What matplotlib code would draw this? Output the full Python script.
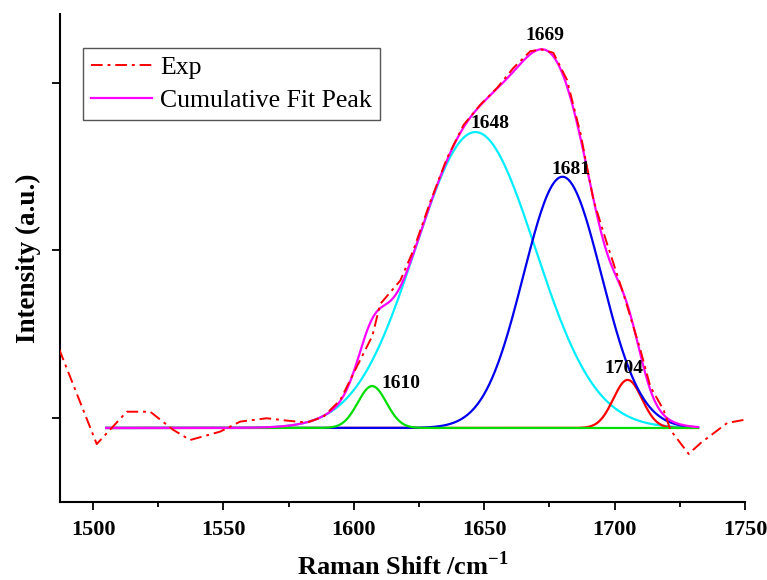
import numpy as np
import matplotlib.pyplot as plt
from matplotlib.ticker import MultipleLocator

plt.rcParams['font.family'] = ['Liberation Serif', 'DejaVu Serif']

exp_x = [1487, 1501.4, 1512.9, 1521.9, 1530.8, 1537.2, 1548.7, 1556.4, 1566.6,
         1574.3, 1582, 1588.3, 1594.8, 1600.5, 1607.1, 1610.1, 1617.8, 1622.8,
         1629.3, 1635.7, 1642.1, 1648.5, 1654.9, 1661.2, 1667.7, 1672, 1676.5,
         1681.7, 1686.9, 1691.9, 1697.1, 1703.4, 1709.9, 1713.7, 1718.8, 1721.4,
         1728.4, 1733, 1743.2, 1749.5]
exp_y = [0.47, -0.096, 0.097, 0.097, -0.012, -0.072, -0.022, 0.038, 0.058,
         0.044, 0.032, 0.067, 0.167, 0.346, 0.55, 0.74, 0.88, 1.06,
         1.35, 1.61, 1.81, 1.93, 2.03, 2.15, 2.25, 2.26, 2.24,
         2.08, 1.76, 1.36, 1.10, 0.80, 0.466, 0.247, 0.107, -0.012,
         -0.155, -0.09, 0.03, 0.048]

# gaussian fit components
peak_labels = ['1610', '1648', '1681', '1704']
peak_centers = [1607, 1646.6, 1680, 1705]
peak_heights = [0.25, 1.767, 1.50, 0.287]
peak_sigmas = [5.5, 23, 15, 5.5]
peak_colors = ['#00dd00', '#00eeff', '#0000ee', '#ff0000']
fit_start, fit_end = 1505, 1732

fig = plt.figure(figsize=(7.67, 5.8), dpi=100)
ax = fig.add_axes([0.0782, 0.1345, 0.8931, 0.8414])

xf = np.linspace(fit_start, fit_end, 600)
comps = [h*np.exp(-(xf-c)**2/(2*s*s)) for c, h, s in zip(peak_centers, peak_heights, peak_sigmas)]
total = np.sum(comps, axis=0)

z = {'1648': 2, '1704': 3, '1681': 4, '1610': 5}
for lab, yc, col in zip(peak_labels, comps, peak_colors):
    ax.plot(xf, yc, color=col, lw=1.6, zorder=z[lab])
ax.plot(xf, total, color='#ff00ff', lw=1.6, zorder=6, label='Cumulative Fit Peak')
ax.plot(exp_x, exp_y, color='#ff0000', lw=1.4, dashes=(6, 2.5, 1.5, 2.5), zorder=7, label='Exp')

# peak annotations
note_text = ['1610', '1648', '1669', '1681', '1704']
note_x = [1618, 1652.3, 1673.4, 1683.3, 1703.5]
note_y = [0.267, 1.82, 2.346, 1.546, 0.356]
for t, x, y in zip(note_text, note_x, note_y):
    ax.text(x, y, t, ha='center', va='center', fontsize=14, fontweight='bold', zorder=8)

ax.set_xlim(1487.3, 1750)
ax.set_ylim(-0.442, 2.472)
ax.xaxis.set_major_locator(MultipleLocator(50))
ax.xaxis.set_minor_locator(MultipleLocator(25))
ax.set_yticks([0.06, 1.06, 2.06])
ax.set_yticklabels([])
for s in ['top', 'right']:
    ax.spines[s].set_visible(False)
for s in ['left', 'bottom']:
    ax.spines[s].set_linewidth(1.5)
ax.tick_params(which='major', length=6, width=1.3, direction='out')
ax.tick_params(which='minor', length=3.5, width=1.3, direction='out')
ax.tick_params(axis='x', labelsize=16, pad=7)
for lbl in ax.get_xticklabels():
    lbl.set_fontweight('bold')

ax.set_xlabel('Raman Shift /cm$^{\\mathregular{-1}}$', fontsize=19, fontweight='bold', labelpad=8)
ax.set_ylabel('Intensity (a.u.)', fontsize=19.5, fontweight='bold', labelpad=4)

h, l = ax.get_legend_handles_labels()
leg = ax.legend(h[::-1], l[::-1], loc='upper left', bbox_to_anchor=(0.0336, 0.930),
                borderaxespad=0, fontsize=18.5, handlelength=2.4, handletextpad=0.3,
                labelspacing=0.4, borderpad=0.3, fancybox=False, framealpha=1)
leg.get_frame().set_edgecolor('#555555')
leg.get_frame().set_linewidth(1.0)

fig.savefig('out.png', dpi=100)
